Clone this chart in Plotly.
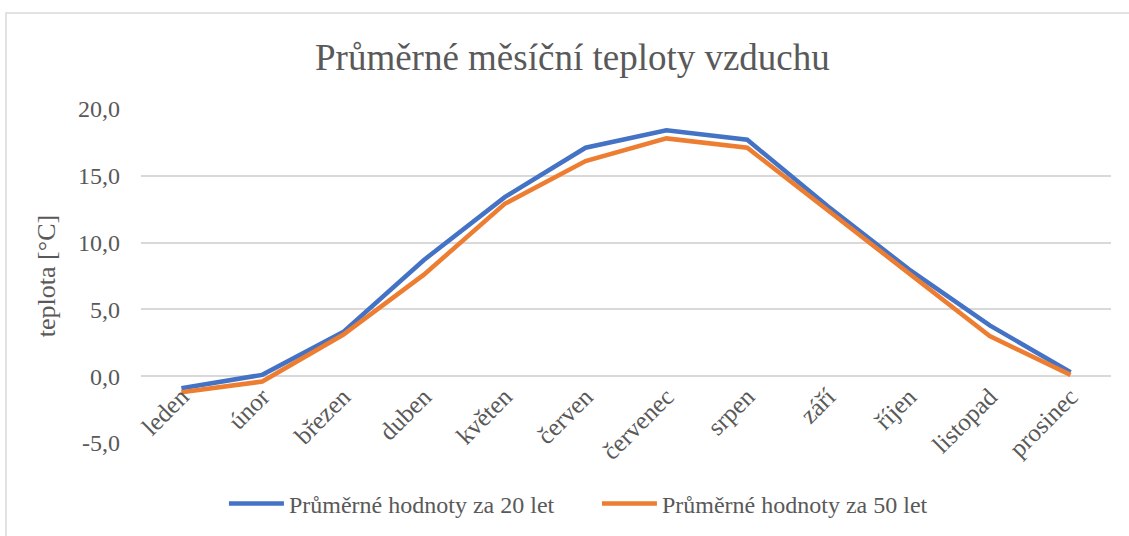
import plotly.graph_objects as go

months = ["leden", "únor", "březen", "duben", "květen", "červen",
          "červenec", "srpen", "září", "říjen", "listopad", "prosinec"]
avg20 = [-0.9, 0.1, 3.3, 8.7, 13.4, 17.1, 18.4, 17.7, 12.7, 8.0, 3.8, 0.3]
avg50 = [-1.2, -0.4, 3.1, 7.6, 12.9, 16.1, 17.8, 17.1, 12.4, 7.7, 3.0, 0.1]
name20 = "Průměrné hodnoty za 20 let"
name50 = "Průměrné hodnoty za 50 let"
ytick_vals = [-5, 0, 5, 10, 15, 20]
ytick_text = ["-5,0", "0,0", "5,0", "10,0", "15,0", "20,0"]

FONT = "Liberation Serif"
GRAY = "#595959"

W, H = 1129, 536
ML, MR, MT, MB = 141, 18, 109, 93

fig = go.Figure()
fig.add_trace(go.Scatter(x=months, y=avg20, mode="lines", name=name20,
                         line=dict(color="#4472C4", width=4.5)))
fig.add_trace(go.Scatter(x=months, y=avg50, mode="lines", name=name50,
                         line=dict(color="#ED7D31", width=4.5)))

pw = W - ML - MR
ph = H - MT - MB
fig.add_shape(type="rect", xref="paper", yref="paper",
              x0=(6 - ML) / pw, x1=(W + 10 - ML) / pw,
              y0=-(MB + 10) / ph, y1=(MT - 13) / ph + 1,
              line=dict(color="#D9D9D9", width=1.5), layer="below")

fig.update_layout(
    width=W, height=H,
    margin=dict(l=ML, r=MR, t=MT, b=MB, autoexpand=False),
    paper_bgcolor="white", plot_bgcolor="white",
    font=dict(family=FONT, color=GRAY, size=24),
    title=dict(text="Průměrné měsíční teploty vzduchu",
               font=dict(family=FONT, size=37, color=GRAY),
               x=0.507, xref="container", xanchor="center",
               y=0.893, yref="container", yanchor="middle"),
    showlegend=True,
    legend=dict(orientation="h", x=0.0855, xanchor="left",
                y=-0.182, yanchor="middle",
                font=dict(family=FONT, size=24, color=GRAY),
                itemwidth=55,
                entrywidth=303, entrywidthmode="pixels"),
    xaxis=dict(type="category", anchor="free", position=0.2,
               tickangle=-45, showgrid=False, showline=False,
               ticks="", tickfont=dict(family=FONT, size=25, color=GRAY),
               range=[-0.5, 11.5], zeroline=False),
    yaxis=dict(range=[-5, 20], tickvals=ytick_vals, ticktext=ytick_text,
               showgrid=True, gridcolor="#D9D9D9", gridwidth=1.5,
               zeroline=False, showline=False, ticks="",
               ticklabelstandoff=20,
               tickfont=dict(family=FONT, size=24, color=GRAY),
               title=dict(text="teplota [°C]", standoff=14,
                          font=dict(family=FONT, size=26, color=GRAY))),
)

fig.write_html("out.html", config={"displayModeBar": False},
               post_script="document.body.style.margin='0';")
